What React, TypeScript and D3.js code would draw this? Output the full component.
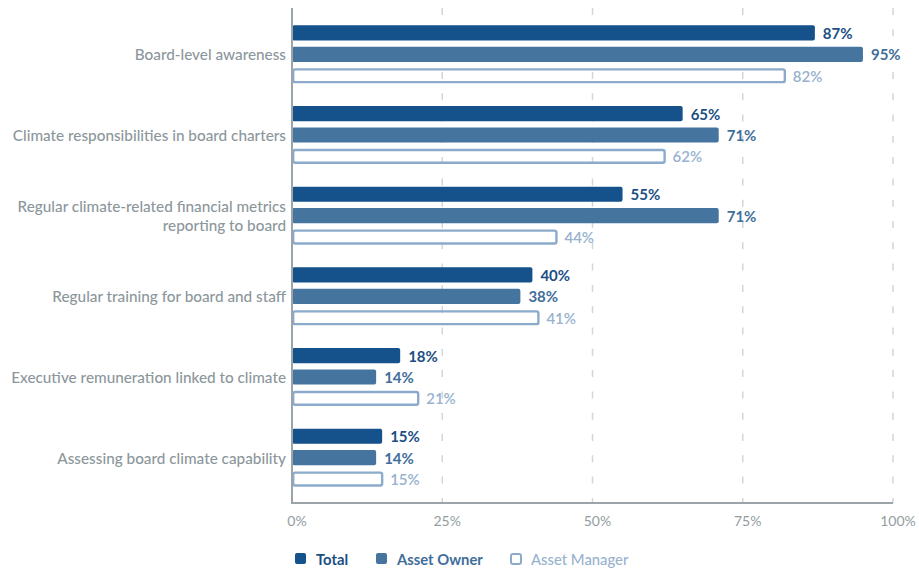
import React from 'react';
import * as d3 from 'd3';

const categories = [
  'Board-level awareness',
  'Climate responsibilities in board charters',
  'Regular climate-related financial metrics\nreporting to board',
  'Regular training for board and staff',
  'Executive remuneration linked to climate',
  'Assessing board climate capability',
];
const seriesNames = ['Total', 'Asset Owner', 'Asset Manager'];
const totalValues = [87, 65, 55, 40, 18, 15];
const ownerValues = [95, 71, 71, 38, 14, 14];
const managerValues = [82, 62, 44, 41, 21, 15];
const xTicks = [0, 25, 50, 75, 100];

const seriesValues = [totalValues, ownerValues, managerValues];
const fills = ['#15518a', '#45749f', 'none'];
const strokes = ['none', 'none', '#8caacb'];
const labelColors = ['#1a4e84', '#3f6e9a', '#98b2ce'];
const labelWeights = [700, 700, 600];

const W = 919;
const H = 570;
const left = 292;
const right = 893;
const top = 8;
const bottom = 503;
const FONT = 'Lato, "Open Sans", sans-serif';

export default function App() {
  const x = d3.scaleLinear().domain([0, 100]).range([left, right]);
  const y = d3.scaleBand<string>().domain(categories).range([14, 498]);
  const inner = d3.scaleBand<string>().domain(seriesNames).range([-29, 29]).paddingInner(0.29);
  const bw = inner.bandwidth();

  const legendX = [295, 376, 510];

  return (
    <svg width={W} height={H} style={{ position: 'absolute', left: 0, top: 0, background: '#fff' }} fontFamily={FONT}>
      {xTicks.filter((t) => t > 0).map((t) => (
        <line key={t} x1={x(t)} x2={x(t)} y1={top} y2={bottom} stroke="#d2d6d8" strokeWidth={1.5} strokeDasharray="7 14.3" />
      ))}
      {categories.map((c, ci) => {
        const cy = (y(c) as number) + y.bandwidth() / 2;
        return (
          <g key={c}>
            {seriesNames.map((s, si) => {
              const v = seriesValues[si][ci];
              const by = cy + (inner(s) as number);
              const outline = si === 2;
              const x0 = x(0) + (outline ? 1.2 : 0);
              const w = x(v) - x(0) - (outline ? 1.2 : 0);
              return (
                <g key={s}>
                  <rect
                    x={x0}
                    y={by + (outline ? 1.2 : 0)}
                    width={w}
                    height={bw - (outline ? 2.4 : 0)}
                    rx={2}
                    fill={fills[si]}
                    stroke={strokes[si]}
                    strokeWidth={outline ? 2.4 : 0}
                  />
                  <text
                    x={x(v) + 8}
                    y={by + bw / 2}
                    dominantBaseline="central"
                    fontSize={15}
                    fontWeight={labelWeights[si]}
                    fill={labelColors[si]}
                  >
                    {v}%
                  </text>
                </g>
              );
            })}
            {(() => {
              const lines = c.split('\n');
              const lh = 19;
              const y0 = cy - ((lines.length - 1) * lh) / 2;
              return (
                <text x={286} textAnchor="end" fontSize={15.3} fill="#8c979c" fontWeight={500}>
                  {lines.map((l, li) => (
                    <tspan key={li} x={286} y={y0 + li * lh} dominantBaseline="central">
                      {l}
                    </tspan>
                  ))}
                </text>
              );
            })()}
          </g>
        );
      })}
      <line x1={left} x2={left} y1={top} y2={bottom} stroke="#9ba4a8" strokeWidth={2} />
      <line x1={left - 1} x2={right} y1={bottom} y2={bottom} stroke="#9ba4a8" strokeWidth={2} />
      {xTicks.map((t) => (
        <text key={t} x={x(t) + 5} y={520} textAnchor="middle" dominantBaseline="central" fontSize={14} fill="#939da1">
          {t}%
        </text>
      ))}
      {seriesNames.map((s, si) => (
        <g key={s}>
          {si < 2 ? (
            <rect x={legendX[si]} y={553} width={11} height={11} rx={2} fill={fills[si]} />
          ) : (
            <rect x={legendX[si] + 1} y={554} width={10} height={10} rx={2} fill="none" stroke={strokes[si]} strokeWidth={2} />
          )}
          <text
            x={legendX[si] + 21}
            y={558.5}
            dominantBaseline="central"
            fontSize={14.8}
            fontWeight={si < 2 ? 700 : 500}
            fill={labelColors[si]}
          >
            {s}
          </text>
        </g>
      ))}
    </svg>
  );
}
